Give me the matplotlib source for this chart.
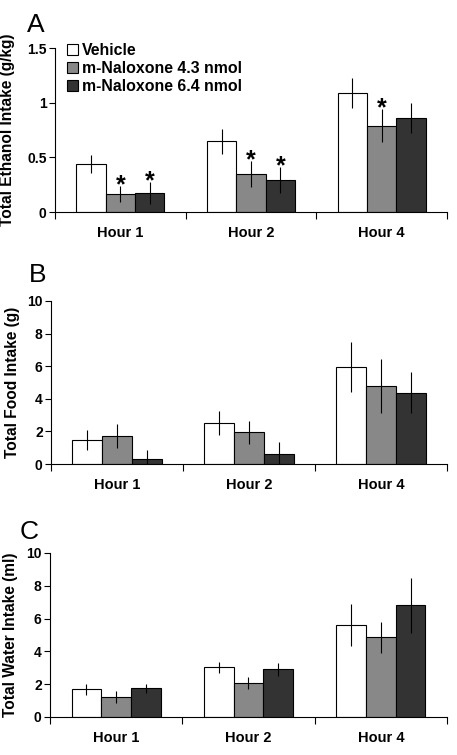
import matplotlib
matplotlib.use("Agg")
import matplotlib.pyplot as plt
import numpy as np

plt.rcParams['font.family'] = ['Liberation Sans', 'DejaVu Sans']

hours = ["Hour 1", "Hour 2", "Hour 4"]
groups = ["Vehicle", "m-Naloxone 4.3 nmol", "m-Naloxone 6.4 nmol"]
colors = ["white", "#888888", "#333333"]

# panel A - ethanol (g/kg)
eth_mean = [[0.44, 0.645, 1.09], [0.165, 0.35, 0.79], [0.175, 0.295, 0.86]]
eth_se = [[0.085, 0.11, 0.14], [0.075, 0.12, 0.15], [0.1, 0.12, 0.135]]
eth_star = [[False, False, False], [True, True, True], [True, True, False]]

# panel B - food (g)
food_mean = [[1.47, 2.5, 5.94], [1.73, 1.94, 4.78], [0.31, 0.61, 4.37]]
food_se = [[0.62, 0.75, 1.52], [0.72, 0.7, 1.68], [0.52, 0.76, 1.27]]

# panel C - water (ml)
water_mean = [[1.69, 3.03, 5.6], [1.24, 2.08, 4.85], [1.75, 2.91, 6.82]]
water_se = [[0.33, 0.35, 1.3], [0.37, 0.37, 0.95], [0.27, 0.39, 1.67]]

fig = plt.figure(figsize=(4.57, 7.55), dpi=100)

# letter, means, se, stars, yticks, yticklabels, ylabel, (left, bottom, top px), letter pos, ylabel x
panels = [
    ("A", eth_mean, eth_se, eth_star, [0, 0.5, 1, 1.5], ["0", "0.5", "1", "1.5"],
     "Total Ethanol Intake (g/kg)", [55, 212, 48], (27, 13), -0.102),
    ("B", food_mean, food_se, None, [0, 2, 4, 6, 8, 10], None,
     "Total Food Intake (g)", [51, 464, 301], (29, 263), -0.078),
    ("C", water_mean, water_se, None, [0, 2, 4, 6, 8, 10], None,
     "Total Water Intake (ml)", [50, 717, 553], (20, 520), -0.081),
]

W, H = 457.0, 755.0
x = np.arange(len(hours))
bw = 0.225

for letter, means, ses, stars, yt, ytl, ylab, box, lpos, labx in panels:
    left, bot, top = box
    ax = fig.add_axes([left / W, 1 - bot / H, (447 - left) / W, (bot - top) / H])
    for i in range(3):
        xs = x + (i - 1) * bw
        ax.bar(xs, means[i], width=bw, color=colors[i], edgecolor="black",
               linewidth=0.8, label=groups[i], zorder=2)
        ax.errorbar(xs, means[i], yerr=ses[i], fmt="none", ecolor="black",
                    elinewidth=0.8, capsize=0, zorder=3)
        if stars is not None:
            for j in range(3):
                if stars[i][j]:
                    ax.annotate("*", (xs[j], means[i][j] + ses[i][j]),
                                xytext=(0, -4.5), textcoords="offset points",
                                ha="center", va="baseline", fontsize=18,
                                fontweight="bold")
    ax.set_xlim(-0.5, 2.5)
    ax.set_ylim(yt[0], yt[-1])
    ax.set_yticks(yt)
    if ytl is not None:
        ax.set_yticklabels(ytl)
    ax.set_xticks([-0.5, 0.5, 1.5, 2.5])
    ax.set_xticklabels([])
    ax.set_xticks(x, minor=True)
    ax.set_xticklabels(hours, minor=True)
    ax.tick_params(axis="x", which="minor", length=0, pad=10)
    ax.tick_params(axis="x", which="major", length=5, width=0.8)
    ax.tick_params(axis="y", length=4, width=0.8, pad=2)
    for lab in ax.get_xticklabels(minor=True):
        lab.set_fontweight("bold")
        lab.set_fontsize(10.5)
    for lab in ax.get_yticklabels():
        lab.set_fontweight("bold")
        lab.set_fontsize(10)
    ax.spines["top"].set_visible(False)
    ax.spines["right"].set_visible(False)
    ax.spines["left"].set_linewidth(0.8)
    ax.spines["bottom"].set_linewidth(0.8)
    ax.set_ylabel(ylab, fontsize=11.2, fontweight="bold")
    ax.yaxis.set_label_coords(labx, 0.5)
    fig.text(lpos[0] / W, 1 - lpos[1] / H, letter, fontsize=19, va="top", ha="left")
    if letter == "A":
        ax.legend(loc="upper left", bbox_to_anchor=(0.03, 1.03), frameon=False,
                  prop={"weight": "bold", "size": 11.4}, handlelength=0.7,
                  handleheight=0.7, handletextpad=0.25, labelspacing=0.2,
                  borderaxespad=0, borderpad=0)

fig.savefig("out.png", dpi=100)
